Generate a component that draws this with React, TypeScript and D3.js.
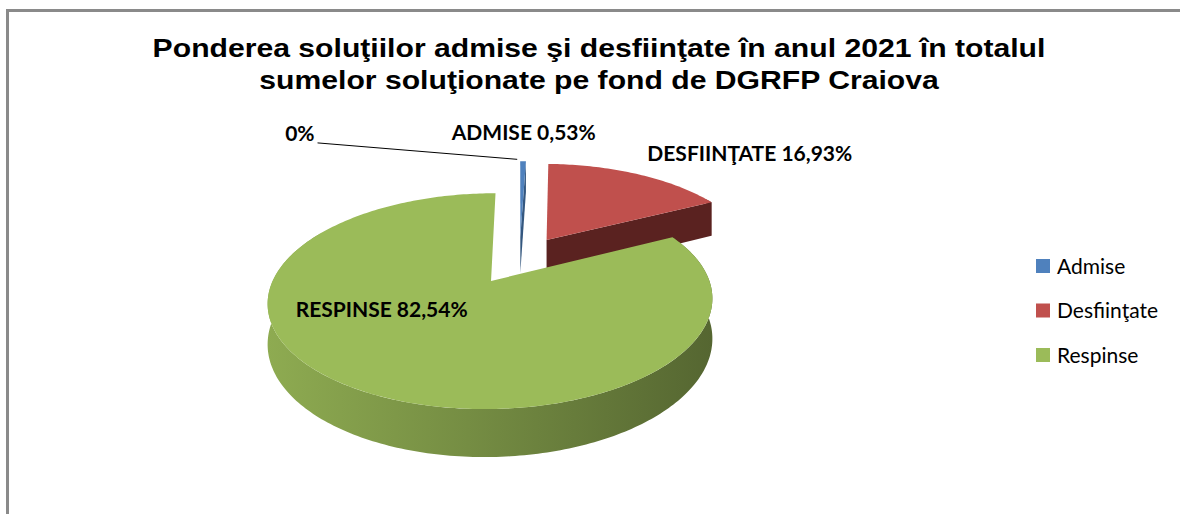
import { useEffect, useRef } from "react";
import * as d3 from "d3";

const categories = ["Admise", "Desfiinţate", "Respinse"];
const shares = [0.53, 16.93, 82.54];
const dataLabels = ["ADMISE 0,53%", "DESFIINŢATE 16,93%", "RESPINSE 82,54%"];
const zeroLabel = "0%";
const titleLines = [
  "Ponderea soluţiilor admise şi desfiinţate în anul 2021 în totalul",
  "sumelor soluţionate pe fond de DGRFP Craiova",
];

const topColors = ["#4F81BD", "#C0504D", "#9BBB59"];
const faceColors = ["#34577F", "#5A2220", "#5E7834"];

const W = 1180;
const H = 514;

export default function App() {
  const svgRef = useRef<SVGSVGElement | null>(null);

  useEffect(() => {
    const svg = d3.select(svgRef.current).attr("width", W).attr("height", H);
    svg.selectAll("*").remove();

    // frame
    svg
      .append("rect")
      .attr("x", 7.5)
      .attr("y", 10.5)
      .attr("width", W + 20)
      .attr("height", H + 20)
      .attr("fill", "white")
      .attr("stroke", "#8a8a8a")
      .attr("stroke-width", 3);

    // title (the original font is a bit wider than Arial, so stretch it)
    svg
      .append("g")
      .selectAll("text")
      .data(titleLines)
      .join("text")
      .attr("transform", (_, i) => `translate(599,${57 + i * 32}) scale(1.16,1)`)
      .attr("text-anchor", "middle")
      .attr("font-family", "'Liberation Sans', Arial, sans-serif")
      .attr("font-weight", "bold")
      .attr("font-size", "26px")
      .attr("fill", "#000")
      .text((d) => d);

    // 3D pie projection (exploded, with perspective)
    const cx = 519.5;
    const cy = 259.6;
    const rx = 210;
    const ry = 96.3;
    const persp = 0.18;
    const depth = 37.5;
    const explode = 0.25;

    const proj = (X: number, Y: number, z = 0): [number, number] => {
      const s = 1 / (1 - persp * Y);
      return [cx + rx * X * s, cy + (ry * Y + z) * s];
    };

    const arcs = d3
      .pie<number>()
      .sort(null)
      .value((d) => d)(shares);

    const slices = arcs.map((a, i) => {
      const mid = (a.startAngle + a.endAngle) / 2;
      return {
        i,
        a0: a.startAngle,
        a1: a.endAngle,
        ox: explode * Math.sin(mid),
        oy: -explode * Math.cos(mid),
      };
    });

    const line = d3.line();
    const rim = (s: any, t: number, z = 0) =>
      proj(s.ox + Math.sin(t), s.oy - Math.cos(t), z);
    const arcPts = (s: any, t0: number, t1: number, z = 0) => {
      const n = Math.max(2, Math.ceil(((t1 - t0) * 180) / Math.PI));
      return d3.range(n + 1).map((k) => rim(s, t0 + ((t1 - t0) * k) / n, z));
    };

    const defs = svg.append("defs");
    topColors.forEach((c, i) => {
      const g = defs
        .append("linearGradient")
        .attr("id", `wall-${i}`)
        .attr("x1", 0)
        .attr("x2", 1)
        .attr("y1", 0)
        .attr("y2", 0);
      const base = d3.color(c)!;
      g.append("stop").attr("offset", "0%").attr("stop-color", base.darker(0.25).toString());
      g.append("stop").attr("offset", "45%").attr("stop-color", base.darker(0.8).toString());
      g.append("stop").attr("offset", "100%").attr("stop-color", base.darker(1.7).toString());
    });

    const pie = svg.append("g");
    const order = [...slices].sort((p, q) => p.oy - q.oy);
    const lo = (60 * Math.PI) / 180;
    const hi = (300 * Math.PI) / 180;

    order.forEach((s) => {
      const g = pie.append("g");
      // outer wall
      const w0 = Math.max(s.a0, lo);
      const w1 = Math.min(s.a1, hi);
      if (w1 > w0) {
        const pts = [...arcPts(s, w0, w1), ...arcPts(s, w0, w1, depth).reverse()];
        g.append("path")
          .attr("d", line(pts) + "Z")
          .attr("fill", `url(#wall-${s.i})`);
      }
      // cut faces facing the viewer
      const apexTop = proj(s.ox, s.oy);
      const apexBot = proj(s.ox, s.oy, depth);
      const faces: number[] = [];
      if (-Math.sin(s.a0) > 0.001) faces.push(s.a0);
      if (Math.sin(s.a1) > 0.001) faces.push(s.a1);
      faces.forEach((t) => {
        g.append("path")
          .attr("d", line([apexTop, rim(s, t), rim(s, t, depth), apexBot]) + "Z")
          .attr("fill", faceColors[s.i]);
      });
      // top
      g.append("path")
        .attr("d", line([apexTop, ...arcPts(s, s.a0, s.a1)]) + "Z")
        .attr("fill", topColors[s.i]);
    });

    // data labels
    const labelLayout = [
      { r: 1.3, turn: 0, anchor: "middle", dx: 0, dy: -3 },
      { r: 1.15, turn: 0, anchor: "start", dx: -2, dy: -5 },
      { r: 0.53, turn: 31.6, anchor: "middle", dx: 0, dy: 10 },
    ];
    const labelFont = "Lato, 'Open Sans', sans-serif";
    slices.forEach((s) => {
      const L = labelLayout[s.i];
      const t = (s.a0 + s.a1) / 2 + (L.turn * Math.PI) / 180;
      const [x, y] = proj(s.ox + L.r * Math.sin(t), s.oy - L.r * Math.cos(t));
      svg
        .append("text")
        .attr("x", x + L.dx)
        .attr("y", y + L.dy)
        .attr("text-anchor", L.anchor)
        .attr("font-family", labelFont)
        .attr("font-weight", "bold")
        .attr("font-size", "21px")
        .attr("fill", "#000")
        .text(dataLabels[s.i]);
    });

    // stray 0% label with leader line to the Admise slice
    const b = slices[0];
    const lineStart = proj(-1.23, -1.55);
    const lineEnd = rim(b, b.a0);
    svg
      .append("path")
      .attr("d", line([lineStart, [lineEnd[0] - 3, lineEnd[1] - 2]]))
      .attr("stroke", "#000")
      .attr("stroke-width", 1)
      .attr("fill", "none");
    svg
      .append("text")
      .attr("x", lineStart[0] - 3)
      .attr("y", lineStart[1] - 2)
      .attr("text-anchor", "end")
      .attr("font-family", labelFont)
      .attr("font-weight", "bold")
      .attr("font-size", "21px")
      .text(zeroLabel);

    // legend
    const ly = d3
      .scalePoint<string>()
      .domain(categories)
      .range([266, 355]);
    const legend = svg.append("g");
    categories.forEach((c, i) => {
      legend
        .append("rect")
        .attr("x", 1036)
        .attr("y", ly(c)! - 7)
        .attr("width", 14)
        .attr("height", 14)
        .attr("fill", topColors[i]);
      legend
        .append("text")
        .attr("x", 1057)
        .attr("y", ly(c)! + 7.5)
        .attr("font-family", labelFont)
        .attr("font-size", "21px")
        .attr("fill", "#000")
        .text(c);
    });
  }, []);

  return (
    <svg
      ref={svgRef}
      style={{ position: "absolute", left: 0, top: 0, display: "block" }}
    ></svg>
  );
}
